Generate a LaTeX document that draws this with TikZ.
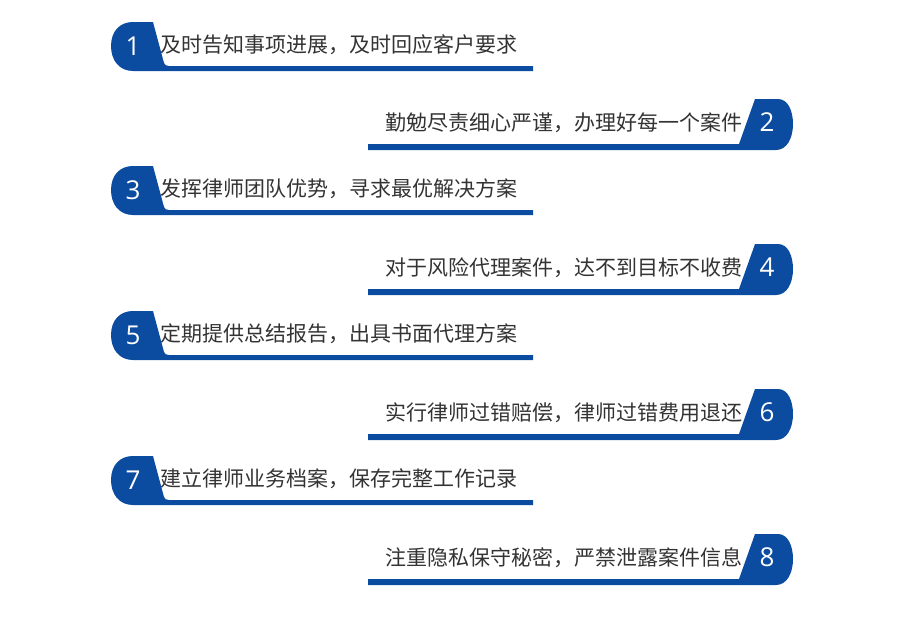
\documentclass[tikz,border=0pt]{standalone}
\usepackage{fontspec}
\setmainfont{Noto Sans CJK SC}
\newfontfamily\numfont{Open Sans}
\definecolor{badgeblue}{RGB}{12,76,160}
\definecolor{txtgray}{RGB}{51,51,51}
\tikzset{
  itemtext/.style={font=\fontsize{21}{21}\selectfont, text=txtgray, inner sep=0pt},
  numtext/.style={font=\numfont\fontsize{26}{26}\selectfont, text=white, inner sep=0pt, anchor=base},
  badge/.style={fill=badgeblue, draw=none}
}
\begin{document}
\begin{tikzpicture}[x=1pt,y=-1pt]
\useasboundingbox (0,0) rectangle (900,624);
% left-side items
\foreach \n/\T/\txt in {1/22/{及时告知事项进展，及时回应客户要求},3/166/{发挥律师团队优势，寻求最优解决方案},5/311/{定期提供总结报告，出具书面代理方案},7/456/{建立律师业务档案，保存完整工作记录}}{
  \fill[badge] (153,\T) -- (164,\T+41) .. controls (165,\T+43) and (166,\T+44) .. (169,\T+44)
     -- (533,\T+44) -- (533,\T+49) -- (133,\T+49)
     .. controls (119,\T+49) and (111,\T+38) .. (111,\T+24)
     .. controls (111,\T+9) and (120,\T) .. (133,\T) -- cycle;
  \node[numtext] (n\n) at (133,\T+33) {\n};
  \node[itemtext, anchor=base west] (t\n) at (160,\T+30) {\txt};
}
% right-side items
\foreach \n/\T/\txt in {2/99/{勤勉尽责细心严谨，办理好每一个案件},4/244/{对于风险代理案件，达不到目标不收费},6/389/{实行律师过错赔偿，律师过错费用退还},8/534/{注重隐私保守秘密，严禁泄露案件信息}}{
  \fill[badge] (755,\T) -- (778,\T) .. controls (788,\T) and (793,\T+12) .. (793,\T+25)
     .. controls (793,\T+39) and (787,\T+51) .. (776,\T+51)
     -- (368,\T+51) -- (368,\T+45) -- (739,\T+45) -- cycle;
  \node[numtext] (n\n) at (767,\T+32) {\n};
  \node[itemtext, anchor=base east] (t\n) at (743,\T+31) {\txt};
}
\end{tikzpicture}
\end{document}
